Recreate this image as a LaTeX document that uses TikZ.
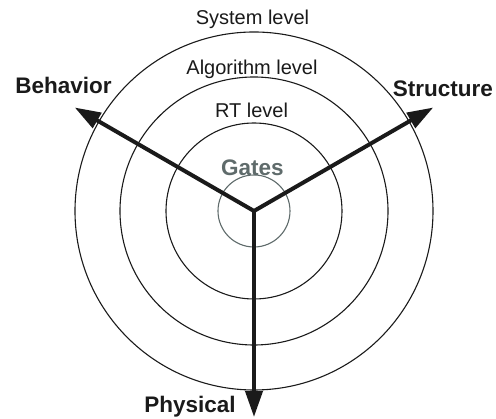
\documentclass[tikz,border=0pt]{standalone}
\usepackage{fontspec}
\setmainfont{Liberation Sans}
\definecolor{ychartInk}{HTML}{1A1A1A}
\definecolor{ychartGray}{HTML}{5F6B6B}
\usetikzlibrary{arrows.meta, positioning}

\begin{document}
\begin{tikzpicture}[
        x=1pt, y=1pt,
        ring/.style={draw=ychartInk, line width=1.1pt},
        levellabel/.style={anchor=base, text=ychartInk, inner sep=0pt,
          font=\fontsize{20}{24}\selectfont},
        axislabel/.style={anchor=base, text=ychartInk, inner sep=0pt,
          font=\fontsize{22.5}{26}\selectfont\bfseries},
        arr/.style={-{Triangle[length=26pt, width=17pt]}, ychartInk, line width=4pt},
      ]
        \useasboundingbox (-254,-208) rectangle (242,211);

        % concentric abstraction levels
        \coordinate (c) at (0,0);
        \draw[ring, draw=ychartGray] (c) circle (36);
        \draw[ring] (c) circle (88);
        \draw[ring] (c) circle (134);
        \draw[ring] (c) circle (179);

        \node[levellabel] (sys) at (-1.5,186) {System level};
        \node[levellabel] (alg) at (-2,136) {Algorithm level};
        \node[levellabel] (rt) at (-2.5,93) {RT level};
        \node[axislabel, text=ychartGray] (gates) at (-1.5,35) {Gates};

        % the three domain axes
        \coordinate (behTip) at (150:207);
        \coordinate (strTip) at (30:207);
        \coordinate (phyTip) at (270:206);
        \draw[arr] (c) -- (behTip);
        \draw[arr] (c) -- (strTip);
        \draw[arr] (c) -- (phyTip);

        \node[axislabel] (beh) at (-190.5,117) {Behavior};
        \node[axislabel] (str) at (189,114) {Structure};
        \node[axislabel] (phy) at (-64,-202) {Physical};
      \end{tikzpicture}
\end{document}
